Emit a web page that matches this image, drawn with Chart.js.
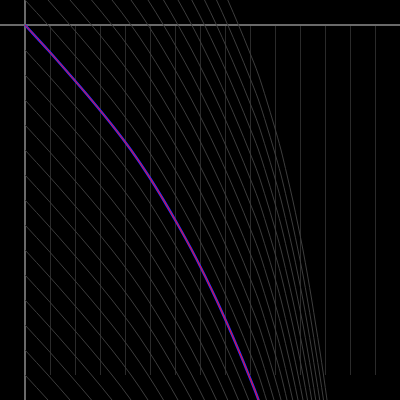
<!DOCTYPE html>
<html>
<head>
<meta charset="utf-8">
<script src="https://cdn.jsdelivr.net/npm/chart.js@4/dist/chart.umd.min.js"></script>
<style>
  html, body { margin: 0; padding: 0; background: #000; }
  #wrap { width: 400px; height: 400px; }
</style>
</head>
<body>
<div id="wrap"><canvas id="chart"></canvas></div>
<script>
const curveX = [0, 0.92, 1.8, 2.66, 3.48, 4.24, 4.92, 5.54, 6.12, 6.67, 7.18, 7.66, 8.11, 8.54, 8.95, 9.34,
                9.66, 9.96, 10.24, 10.48, 10.71, 10.92, 11.12, 11.3, 11.47, 11.63, 11.79, 11.94, 12.08, 12.22, 12.36];
const curveY = [0, 1, 2, 3, 4, 5, 6, 7, 8, 9, 10, 11, 12, 13, 14, 15,
                16, 17, 18, 19, 20, 21, 22, 23, 24, 25, 26, 27, 28, 29, 30];
// vertical shifts of the grey copies
const shifts = [-13, -12, -11, -10, -9, -8, -7, -6, -5, -4, -3, -2, -1, 0,
                1, 2, 3, 4, 5, 6, 7, 8, 9, 10, 11, 12, 13, 14];
const xTicks = [0, 1, 2, 3, 4, 5, 6, 7, 8, 9, 10, 11, 12, 13, 14];

const grey = shifts.map(function(s){
  return {
    data: curveX.map(function(x, i){ return { x: x, y: curveY[i] + s }; }),
    borderColor: '#3d3d3d',
    borderWidth: 1,
    pointRadius: 0,
    cubicInterpolationMode: 'monotone',
    clip: false,
    order: 3
  };
});

const mainLine = curveX.map(function(x, i){ return { x: x, y: curveY[i] }; });

// axis lines through zero, running across the whole canvas
const axisLines = {
  id: 'axisLines',
  beforeDatasetsDraw(chart) {
    const ctx = chart.ctx;
    const x0 = chart.scales.x.getPixelForValue(0);
    const y0 = chart.scales.y.getPixelForValue(0);
    ctx.save();
    ctx.strokeStyle = '#6a6a6a';
    ctx.lineWidth = 2;
    ctx.beginPath();
    ctx.moveTo(0, y0); ctx.lineTo(chart.width, y0);
    ctx.moveTo(x0, 0); ctx.lineTo(x0, chart.height);
    ctx.stroke();
    ctx.restore();
  }
};

new Chart(document.getElementById('chart'), {
  type: 'line',
  data: {
    datasets: grey.concat([
      { data: mainLine, borderColor: '#2b2bff', borderWidth: 2.5, pointRadius: 0, cubicInterpolationMode: 'monotone', clip: false, order: 2 },
      { data: mainLine, borderColor: '#ff1010', borderWidth: 1, pointRadius: 0, cubicInterpolationMode: 'monotone', clip: false, order: 1 }
    ])
  },
  options: {
    responsive: true,
    maintainAspectRatio: false,
    animation: false,
    layout: { padding: 25 },
    plugins: { legend: { display: false }, tooltip: { enabled: false } },
    scales: {
      x: {
        type: 'linear', min: 0, max: 14,
        afterBuildTicks: function(scale){ scale.ticks = xTicks.map(function(v){ return { value: v }; }); },
        ticks: { display: false },
        grid: { color: '#2a2a2a', drawTicks: false },
        border: { display: false }
      },
      y: {
        type: 'linear', min: 0, max: 14, reverse: true,
        ticks: { display: false },
        grid: { display: false, drawTicks: false },
        border: { display: false }
      }
    }
  },
  plugins: [axisLines]
});
</script>
</body>
</html>
